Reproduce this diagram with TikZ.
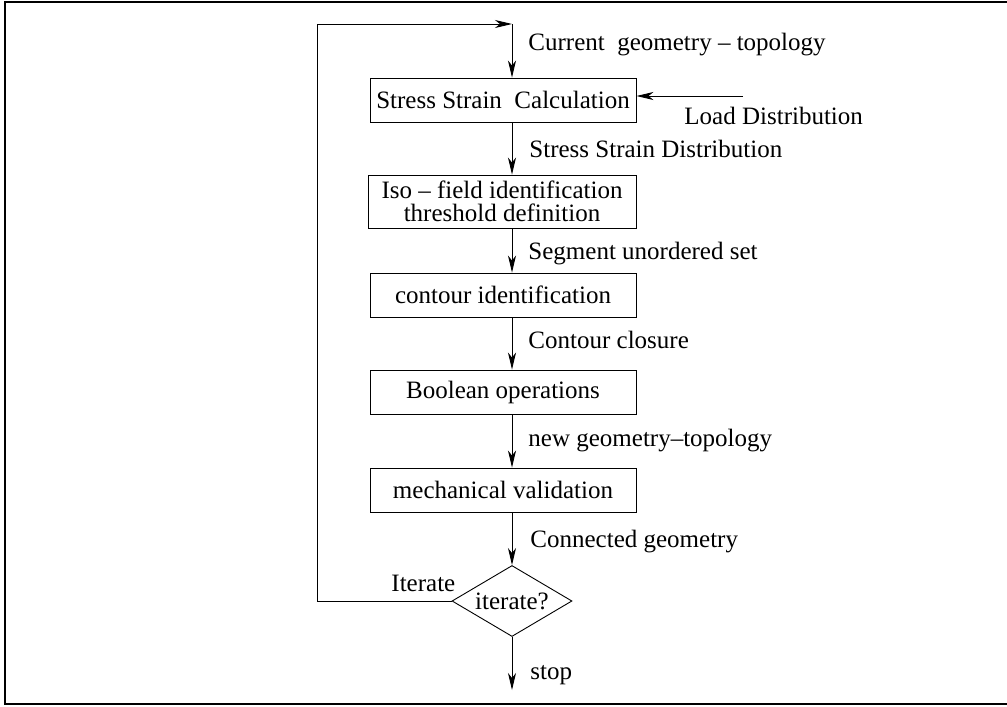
\documentclass[tikz,border=0pt]{standalone}
\usepackage{fontspec}
\setmainfont{Liberation Serif}
\usetikzlibrary{arrows.meta,shapes.geometric}

\begin{document}
\begin{tikzpicture}[x=1pt,y=-1pt,line width=0.9pt,
  font=\fontsize{25}{23}\selectfont,
  box/.style={draw,rectangle,minimum width=266pt,minimum height=44pt,inner sep=0pt,align=center},
  lbl/.style={anchor=base west,inner sep=0pt},
  >={Stealth[length=17pt,width=8pt,inset=5pt]}]
 \useasboundingbox (0,0) rectangle (1007,707);
 \draw[line width=1.6pt] (1007,2)--(5,2)--(5,704)--(1007,704); %frame
 % boxes
 \node[box] (calc) at (503,100) {Stress Strain\ \ Calculation};
 \node[box,minimum width=268pt,minimum height=53pt] (iso) at (502,201.5) {Iso -- field identification\\threshold definition};
 \node[box] (contour) at (503,295) {contour identification};
 \node[box] (bool) at (503,392) {Boolean operations};
 \node[box] (mech) at (503,490) {mechanical validation};
 \node[draw,diamond,aspect=1.7,minimum width=120pt,minimum height=71pt,inner sep=0pt] (decide) at (512,601) {iterate?};
 \coordinate (top) at (512,24); %loop end
 \coordinate (loadsrc) at (743,96); %load arrow
 \coordinate (stopend) at (512,690); %stop arrow
 % connectors
 \draw[->] (decide.west)--(317,601)--(317,24)--(top);
 \draw[->] (top)--(top |- calc.north);
 \draw[->] (loadsrc)--(loadsrc -| calc.east);
 \draw[->] (calc.south -| top)--(iso.north -| top);
 \draw[->] (iso.south -| top)--(contour.north -| top);
 \draw[->] (contour.south -| top)--(bool.north -| top);
 \draw[->] (bool.south -| top)--(mech.north -| top);
 \draw[->] (mech.south -| top)--(decide.north);
 \draw[->] (decide.south)--(stopend);
 % labels
 \node[lbl] (lcur) at (528,50) {Current\ \ geometry -- topology};
 \node[lbl] (lload) at (684,124) {Load Distribution};
 \node[lbl] (lssd) at (529,157) {Stress Strain Distribution};
 \node[lbl] (lseg) at (528,259) {Segment unordered set};
 \node[lbl] (lclo) at (528,348) {Contour closure};
 \node[lbl] (lnew) at (528,446) {new geometry--topology};
 \node[lbl] (lcon) at (530,547) {Connected geometry};
 \node[lbl] (lit) at (391,591) {Iterate};
 \node[lbl] (lstop) at (530,679) {stop};
\end{tikzpicture}
\end{document}
